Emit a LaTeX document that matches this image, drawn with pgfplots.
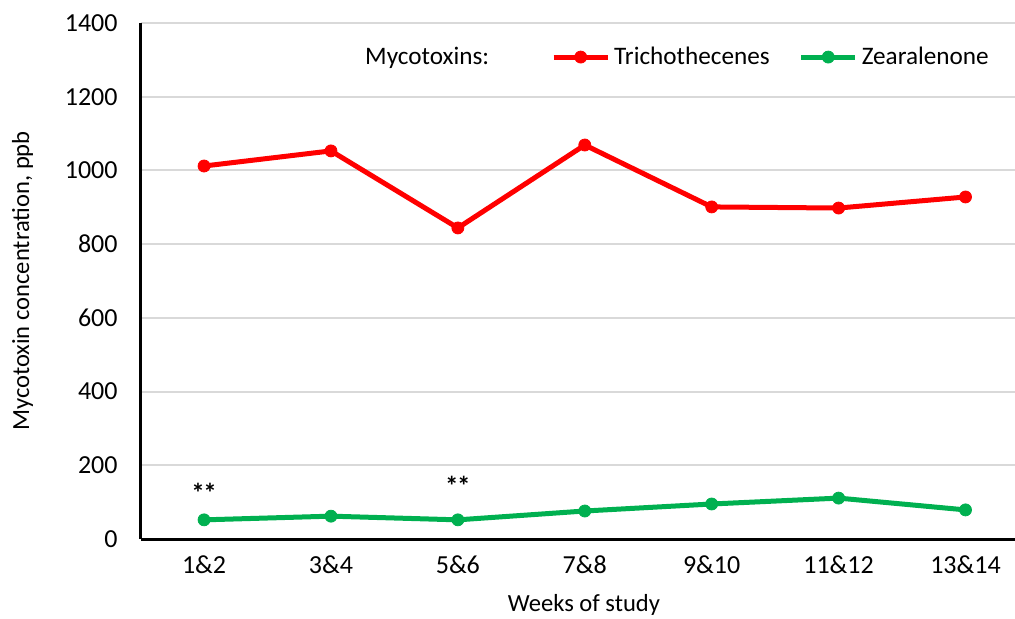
\documentclass[border=0pt]{standalone}
\usepackage{pgfplots}
\pgfplotsset{compat=1.18}
\usepackage{fontspec}
\setmainfont{Carlito}
\definecolor{tred}{HTML}{FF0000}
\definecolor{zgreen}{HTML}{00B050}
\definecolor{gridgray}{HTML}{D9D9D9}
\begin{document}
\begin{tikzpicture}
\useasboundingbox (0,0) rectangle (507.5pt,309pt);
\begin{axis}[
  at={(70.3pt,39.5pt)}, anchor=south west,
  scale only axis, width=437.2pt, height=258pt,
  xmin=-0.5, xmax=6.39, ymin=0, ymax=1400,
  ytick={0,200,...,1400},
  xtick={0,...,6},
  xticklabels={1\&2,3\&4,5\&6,7\&8,9\&10,11\&12,13\&14},
  axis x line=bottom, axis y line=left,
  axis line style={-, line width=1.5pt, black},
  major tick length=0pt,
  ymajorgrids, grid style={gridgray, line width=1pt},
  tick label style={font=\fontsize{13}{15}\selectfont, text=black},
  /pgf/number format/assume math mode=true,
  /pgf/number format/1000 sep={},
  yticklabel style={xshift=-8pt},
  xticklabel style={yshift=-5pt},
  xlabel={Weeks of study},
  ylabel={Mycotoxin concentration, ppb},
  every axis x label/.style={at={(axis description cs:0.507,-0.128)}, anchor=center, font=\fontsize{12.3}{14}\selectfont},
  every axis y label/.style={at={(axis description cs:-0.135,0.5)}, rotate=90, anchor=center, font=\fontsize{12.3}{14}\selectfont},
  clip=false,
  legend columns=3,
  legend style={draw=none, fill=none, at={(axis description cs:0.245,0.934)}, anchor=west,
    font=\fontsize{12.6}{14}\selectfont,
    /tikz/every even column/.append style={column sep=12.5pt}},
  legend image code/.code={
    \draw[#1, mark repeat=2, mark phase=2] plot coordinates {(0pt,0pt) (13.5pt,0pt) (27pt,0pt)};
  },
]
\addlegendimage{empty legend}
\addlegendentry{\makebox[78.5pt][l]{Mycotoxins:}}
\addplot[tred, line width=2.5pt, mark=*, mark size=3pt, mark options={solid, line width=0.4pt}]
  coordinates {(0,1012) (1,1053) (2,844) (3,1069) (4,901) (5,898) (6,928)};
\addlegendentry{Trichothecenes}
\addplot[zgreen, line width=2.5pt, mark=*, mark size=3pt, mark options={solid, line width=0.4pt}]
  coordinates {(0,52) (1,62) (2,52) (3,76) (4,95) (5,111) (6,79)};
\addlegendentry{Zearalenone}
\node[font=\fontsize{13.5}{14}\selectfont\bfseries] at (axis cs:0,125) {*\kern-0.8pt*};
\node[font=\fontsize{13.5}{14}\selectfont\bfseries] at (axis cs:2,144) {*\kern-0.8pt*};
\end{axis}
\end{tikzpicture}
\end{document}
